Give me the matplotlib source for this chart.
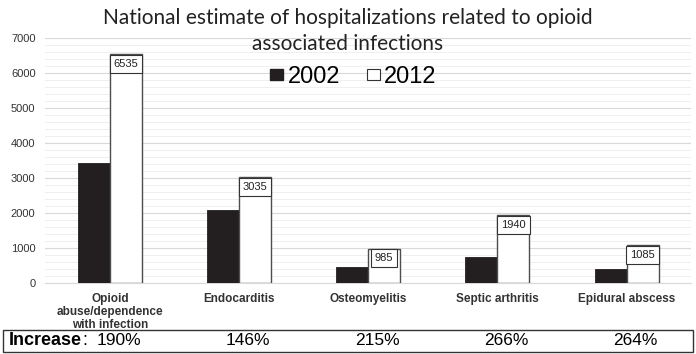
import numpy as np
import matplotlib
matplotlib.use("Agg")
import matplotlib.pyplot as plt
from matplotlib.patches import Patch, Rectangle
from matplotlib.ticker import MultipleLocator

# hospitalizations per infection type, 2002 vs 2012
categories = ["Opioid\nabuse/dependence\nwith infection", "Endocarditis",
              "Osteomyelitis", "Septic arthritis", "Epidural abscess"]
hosp_2002 = [3430, 2075, 458, 729, 411]
hosp_2012 = [6535, 3035, 985, 1940, 1085]
increase = ["190%", "146%", "215%", "266%", "264%"]

plt.rcParams['font.family'] = ['Liberation Sans', 'DejaVu Sans']

fig = plt.figure(figsize=(6.96, 3.54), dpi=100)
ax = fig.add_axes([0.065, 0.2006, 0.928, 0.692])

x = np.arange(len(categories))
w = 0.248
ax.bar(x - w / 2, hosp_2002, w, color='#231f20', edgecolor='#231f20', lw=0.6, zorder=3)
ax.bar(x + w / 2, hosp_2012, w, color='white', edgecolor='#4d4d4d', lw=1.0, zorder=3)

for xi, v in zip(x, hosp_2012):
    ax.annotate(str(v), xy=(xi + w / 2, v), xytext=(0, -3.5), textcoords='offset points',
                ha='center', va='top', fontsize=8, color='#222222', zorder=4,
                bbox=dict(boxstyle='square,pad=0.35', fc='white', ec='#333333', lw=0.8))

ax.set_xlim(-0.5, len(categories) - 0.5)
ax.set_ylim(0, 7000)
ax.yaxis.set_major_locator(MultipleLocator(1000))
ax.yaxis.set_minor_locator(MultipleLocator(200))
ax.grid(axis='y', which='major', color='#d9d9d9', lw=0.8, zorder=0)
ax.grid(axis='y', which='minor', color='#efefef', lw=0.7, zorder=0)
ax.set_axisbelow(True)
for s in ['top', 'right', 'left']:
    ax.spines[s].set_visible(False)
ax.spines['bottom'].set_color('#d9d9d9')
ax.tick_params(axis='y', which='both', length=0, pad=7, labelsize=8, labelcolor='#333333')
ax.tick_params(axis='x', length=0, pad=7)
ax.set_xticks(x)
ax.set_xticklabels(categories, fontsize=8.5, fontweight='bold', color='#333333', linespacing=1.1)

fig.text(0.5, 0.912, "National estimate of hospitalizations related to opioid\nassociated infections",
         ha='center', va='center', fontsize=15, family=['Lato', 'DejaVu Sans'],
         color='#222222', linespacing=1.35)

handles = [Patch(fc='#231f20', ec='#231f20'), Patch(fc='white', ec='#333333', lw=0.8)]
fig.legend(handles, ['2002', '2012'], loc='center', bbox_to_anchor=(0.508, 0.783),
           ncol=2, frameon=False, fontsize=17, handlelength=0.55, handleheight=0.3,
           handletextpad=0.2, columnspacing=1.1)

# increase row under the chart
fig.patches.append(Rectangle((0.005, 0.006), 0.99, 0.062, transform=fig.transFigure,
                             fill=False, ec='#333333', lw=1.0))
fig.text(0.012, 0.037, "Increase", ha='left', va='center', fontsize=13, fontweight='bold')
fig.text(0.119, 0.037, ":", ha='left', va='center', fontsize=13)
for xi, lab in zip(x, increase):
    xf = fig.transFigure.inverted().transform(ax.transData.transform((xi, 0)))[0]
    fig.text(xf + 0.013, 0.037, lab, ha='center', va='center', fontsize=12.5)

fig.savefig("out.png", dpi=100)
